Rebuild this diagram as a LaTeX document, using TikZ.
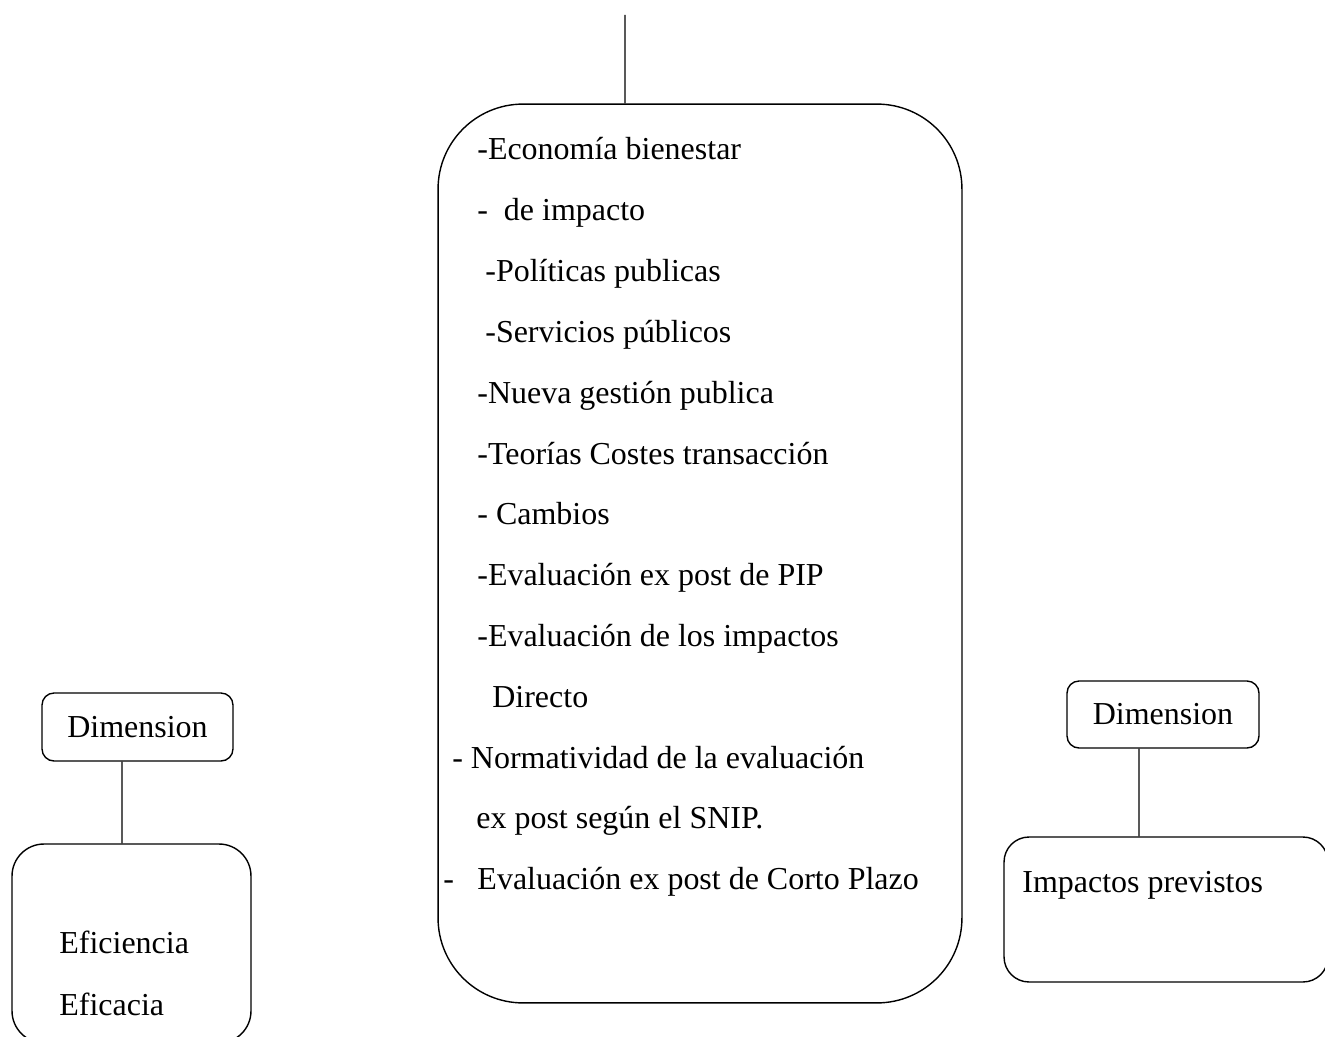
\documentclass[tikz,border=0pt]{standalone}
\usepackage{fontspec}
\setmainfont{Liberation Serif}
\usetikzlibrary{positioning}
\tikzset{
  dimBox/.style={rectangle, draw, line width=0.8pt, rounded corners=0.24cm, minimum width=3.82cm, minimum height=1.36cm, inner sep=0pt},
  roundBox/.style={rectangle, draw, line width=0.8pt, inner sep=0pt},
  entry/.style={anchor=base west, inner sep=0pt},
  link/.style={draw, line width=0.8pt}
}

\begin{document}
\begin{tikzpicture}[x=0.02cm, y=-0.02cm, font=\fontsize{18.2}{22}\selectfont]
  \useasboundingbox (0,0) rectangle (1325,1037);
  \clip (0,0) rectangle (1325,1037);
  % central box
  \node [roundBox, rounded corners=1.7cm, minimum width=10.48cm, minimum height=17.98cm] (marco) at (700,553.5) {};
  \coordinate (arriba) at (625,15);
  \draw [link] (arriba) -- ([xshift=-1.5cm]marco.north);
  \foreach \n/\px/\txt in {
      0/477/{-Economía bienestar},
      1/477/{-\ \ de impacto},
      2/485/{-Políticas publicas},
      3/485/{-Servicios públicos},
      4/477/{-Nueva gestión publica},
      5/477/{-Teorías Costes transacción},
      6/477/{- Cambios},
      7/477/{-Evaluación ex post de PIP},
      8/477/{-Evaluación de los impactos},
      9/492/{Directo},
      10/452/{- Normatividad de la evaluación},
      11/476/{ex post según el SNIP.},
      12/443/{-\hspace{0.47cm}Evaluación ex post de Corto Plazo}}
    \node [entry] (item\n) at (\px,160+60.8*\n) {\txt};
  % left side
  \node [dimBox] (dimIzq) at (137.5,727) {Dimension};
  \node [roundBox, rounded corners=0.64cm, minimum width=4.78cm, minimum height=3.98cm] (efIzq) at (131.5,943.5) {};
  \node [entry] (eficiencia) at (59,953) {Eficiencia};
  \node [entry] (eficacia) at (59,1015) {Eficacia};
  \draw [link] ([xshift=-0.31cm]dimIzq.south) -- ([xshift=-0.19cm]efIzq.north);
  % right side
  \node [dimBox, minimum width=3.84cm, minimum height=1.34cm] (dimDer) at (1163,714.5) {Dimension};
  \node [roundBox, rounded corners=0.5cm, minimum width=6.48cm, minimum height=2.9cm] (impDer) at (1166,909.5) {};
  \node [entry] (impactos) at (1022,892) {Impactos previstos};
  \draw [link] ([xshift=-0.48cm]dimDer.south) -- ([xshift=-0.54cm]impDer.north);
\end{tikzpicture}
\end{document}
